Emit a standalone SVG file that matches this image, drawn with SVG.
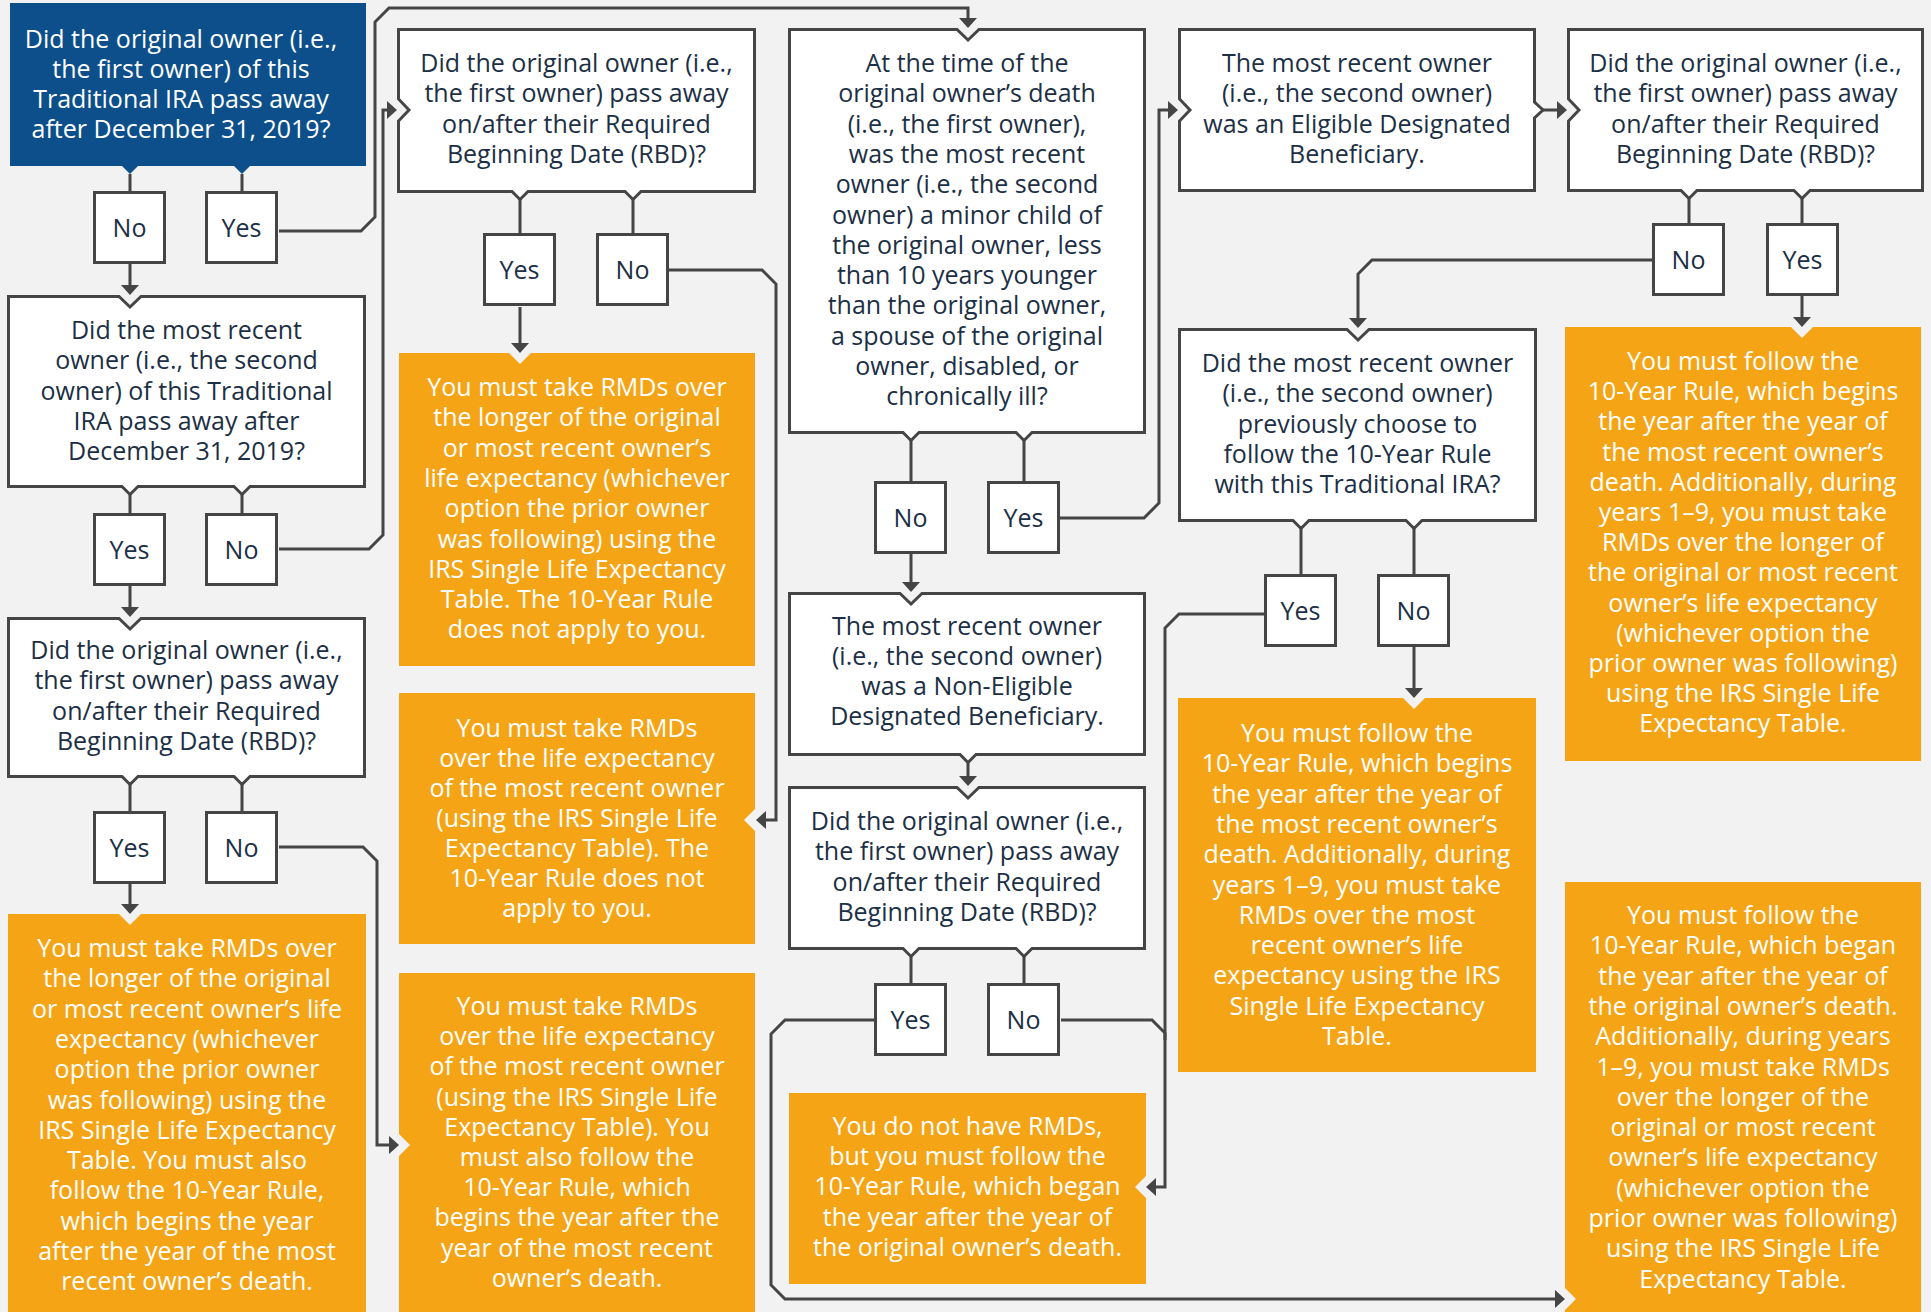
<svg xmlns="http://www.w3.org/2000/svg" width="1931" height="1312" viewBox="0 0 1931 1312">
<defs>
<style>
.wb{fill:#fff;stroke:#454545;stroke-width:3}
.ob{fill:#f5a416}
.cut{fill:#f2f2f2}
.cn{fill:none;stroke:#454545;stroke-width:3}
.ar{marker-end:url(#ah)}
text{font-family:"Open Sans","Liberation Sans",sans-serif;font-size:25px;fill:#1c2f45;text-anchor:middle}
.w{fill:#fff}
</style>
<marker id="ah" viewBox="0 0 10 18" refX="6" refY="9" markerWidth="10" markerHeight="18" markerUnits="userSpaceOnUse" orient="auto"><path d="M0,0 L10,9 L0,18 Z" fill="#454545"/></marker>
</defs>
<rect width="1931" height="1312" fill="#f2f2f2"/>

<g id="connectors">
<path class="cn" d="M130,174 V191"/>
<path class="cn" d="M242,174 V191"/>
<path class="cn ar" d="M130,264 V291"/>
<path class="cn ar" d="M279,231 H361 L375,217 V22 L389,8 H968 V24"/>
<path class="cn" d="M130,494 V513"/>
<path class="cn" d="M242,494 V513"/>
<path class="cn ar" d="M130,586 V613"/>
<path class="cn ar" d="M279,549 H369 L383,535 V110 H393"/>
<path class="cn" d="M130,784 V811"/>
<path class="cn" d="M242,784 V811"/>
<path class="cn ar" d="M130,883 V910"/>
<path class="cn ar" d="M279,847 H363 L377,861 V1145 H395"/>
<path class="cn" d="M520,199 V233"/>
<path class="cn" d="M633,199 V233"/>
<path class="cn ar" d="M520,307 V349"/>
<path class="cn ar" d="M669,270 H762 L776,284 V820 H760"/>
<path class="cn" d="M911,440 V481"/>
<path class="cn" d="M1024,440 V481"/>
<path class="cn ar" d="M911,554 V588"/>
<path class="cn ar" d="M1060,518 H1144 L1159,503 V110 H1174"/>
<path class="cn ar" d="M968,762 V782"/>
<path class="cn" d="M911,956 V983"/>
<path class="cn" d="M1024,956 V983"/>
<path class="cn ar" d="M874,1020 H785 L771,1034 V1285 L785,1299 H1561"/>
<path class="cn ar" d="M1061,1020 H1152 L1165,1033 V1187 H1150"/>
<path class="cn" d="M1265,614 H1179 L1165,628 V1040"/>
<path class="cn ar" d="M1543,110 H1563"/>
<path class="cn" d="M1689,198 V223"/>
<path class="cn" d="M1802,198 V223"/>
<path class="cn ar" d="M1802,296 V323"/>
<path class="cn ar" d="M1652,260 H1372 L1358,274 V324"/>
<path class="cn" d="M1301,528 V574"/>
<path class="cn" d="M1414,528 V574"/>
<path class="cn ar" d="M1414,647 V694"/>
</g>

<g id="q1">
<path d="M10,3 H366 V166 H250 L242,174 L234,166 H138 L130,174 L122,166 H10 Z" fill="#0c4f8b"/>
<text class="w" x="181" y="48">Did the original owner (i.e.,</text>
<text class="w" x="181" y="78">the first owner) of this</text>
<text class="w" x="181" y="108">Traditional IRA pass away</text>
<text class="w" x="181" y="138">after December 31, 2019?</text>
</g>
<g id="q1-no"><rect class="wb" x="94.5" y="192.5" width="70" height="70"/><text x="129.5" y="237">No</text></g>
<g id="q1-yes"><rect class="wb" x="206.5" y="192.5" width="70" height="70"/><text x="241.5" y="237">Yes</text></g>

<g id="q2">
<path class="wb" d="M8.5,296.5 H119 L130,307 L141,296.5 H364.5 V486.5 H250 L242,494.5 L234,486.5 H138 L130,494.5 L122,486.5 H8.5 Z"/>
<text x="186.5" y="339">Did the most recent</text>
<text x="186.5" y="369.3">owner (i.e., the second</text>
<text x="186.5" y="399.6">owner) of this Traditional</text>
<text x="186.5" y="429.9">IRA pass away after</text>
<text x="186.5" y="460.2">December 31, 2019?</text>
</g>
<g id="q2-yes"><rect class="wb" x="94.5" y="514.5" width="70" height="70"/><text x="129.5" y="559">Yes</text></g>
<g id="q2-no"><rect class="wb" x="206.5" y="514.5" width="70" height="70"/><text x="241.5" y="559">No</text></g>

<g id="q3">
<path class="wb" d="M8.5,618.5 H119 L130,629 L141,618.5 H364.5 V776.5 H250 L242,784.5 L234,776.5 H138 L130,784.5 L122,776.5 H8.5 Z"/>
<text x="186.5" y="659">Did the original owner (i.e.,</text>
<text x="186.5" y="689.3">the first owner) pass away</text>
<text x="186.5" y="719.6">on/after their Required</text>
<text x="186.5" y="749.9">Beginning Date (RBD)?</text>
</g>
<g id="q3-yes"><rect class="wb" x="94.5" y="812.5" width="70" height="70"/><text x="129.5" y="857">Yes</text></g>
<g id="q3-no"><rect class="wb" x="206.5" y="812.5" width="70" height="70"/><text x="241.5" y="857">No</text></g>

<g id="r1">
<rect class="ob" x="8" y="914" width="358" height="398"/>
<polygon class="cut" points="119,914 130,925 141,914"/>
<text class="w" x="187" y="957">You must take RMDs over</text>
<text class="w" x="187" y="987.3">the longer of the original</text>
<text class="w" x="187" y="1017.6">or most recent owner’s life</text>
<text class="w" x="187" y="1047.9">expectancy (whichever</text>
<text class="w" x="187" y="1078.2">option the prior owner</text>
<text class="w" x="187" y="1108.5">was following) using the</text>
<text class="w" x="187" y="1138.8">IRS Single Life Expectancy</text>
<text class="w" x="187" y="1169.1">Table. You must also</text>
<text class="w" x="187" y="1199.4">follow the 10-Year Rule,</text>
<text class="w" x="187" y="1229.7">which begins the year</text>
<text class="w" x="187" y="1260">after the year of the most</text>
<text class="w" x="187" y="1290.3">recent owner’s death.</text>
</g>

<g id="q4">
<path class="wb" d="M398.5,29.5 H754.5 V191.5 H641 L633,199.5 L625,191.5 H528 L520,199.5 L512,191.5 H398.5 V121 L409,110 L398.5,99 Z"/>
<text x="576.5" y="72">Did the original owner (i.e.,</text>
<text x="576.5" y="102.3">the first owner) pass away</text>
<text x="576.5" y="132.6">on/after their Required</text>
<text x="576.5" y="162.9">Beginning Date (RBD)?</text>
</g>
<g id="q4-yes"><rect class="wb" x="484.5" y="234.5" width="70" height="70"/><text x="519.5" y="279">Yes</text></g>
<g id="q4-no"><rect class="wb" x="597.5" y="234.5" width="70" height="70"/><text x="632.5" y="279">No</text></g>

<g id="r2">
<rect class="ob" x="399" y="353" width="356" height="313"/>
<polygon class="cut" points="509,353 520,364 531,353"/>
<text class="w" x="577" y="396">You must take RMDs over</text>
<text class="w" x="577" y="426.3">the longer of the original</text>
<text class="w" x="577" y="456.6">or most recent owner’s</text>
<text class="w" x="577" y="486.9">life expectancy (whichever</text>
<text class="w" x="577" y="517.2">option the prior owner</text>
<text class="w" x="577" y="547.5">was following) using the</text>
<text class="w" x="577" y="577.8">IRS Single Life Expectancy</text>
<text class="w" x="577" y="608.1">Table. The 10-Year Rule</text>
<text class="w" x="577" y="638.4">does not apply to you.</text>
</g>

<g id="r3">
<rect class="ob" x="399" y="693" width="356" height="251"/>
<polygon class="cut" points="755,809 744,820 755,831"/>
<text class="w" x="577" y="737">You must take RMDs</text>
<text class="w" x="577" y="767">over the life expectancy</text>
<text class="w" x="577" y="797">of the most recent owner</text>
<text class="w" x="577" y="827">(using the IRS Single Life</text>
<text class="w" x="577" y="857">Expectancy Table). The</text>
<text class="w" x="577" y="887">10-Year Rule does not</text>
<text class="w" x="577" y="917">apply to you.</text>
</g>

<g id="r4">
<rect class="ob" x="399" y="973" width="356" height="339"/>
<polygon class="cut" points="399,1134 410,1145 399,1156"/>
<text class="w" x="577" y="1015">You must take RMDs</text>
<text class="w" x="577" y="1045.2">over the life expectancy</text>
<text class="w" x="577" y="1075.4">of the most recent owner</text>
<text class="w" x="577" y="1105.6">(using the IRS Single Life</text>
<text class="w" x="577" y="1135.8">Expectancy Table). You</text>
<text class="w" x="577" y="1166">must also follow the</text>
<text class="w" x="577" y="1196.2">10-Year Rule, which</text>
<text class="w" x="577" y="1226.4">begins the year after the</text>
<text class="w" x="577" y="1256.6">year of the most recent</text>
<text class="w" x="577" y="1286.8">owner’s death.</text>
</g>

<g id="q5">
<path class="wb" d="M789.5,29.5 H957 L968,40 L979,29.5 H1144.5 V432.5 H1032 L1024,440.5 L1016,432.5 H919 L911,440.5 L903,432.5 H789.5 Z"/>
<text x="967" y="72">At the time of the</text>
<text x="967" y="102.3">original owner’s death</text>
<text x="967" y="132.6">(i.e., the first owner),</text>
<text x="967" y="162.9">was the most recent</text>
<text x="967" y="193.2">owner (i.e., the second</text>
<text x="967" y="223.5">owner) a minor child of</text>
<text x="967" y="253.8">the original owner, less</text>
<text x="967" y="284.1">than 10 years younger</text>
<text x="967" y="314.4">than the original owner,</text>
<text x="967" y="344.7">a spouse of the original</text>
<text x="967" y="375">owner, disabled, or</text>
<text x="967" y="405.3">chronically ill?</text>
</g>
<g id="q5-no"><rect class="wb" x="875.5" y="482.5" width="70" height="70"/><text x="910.5" y="527">No</text></g>
<g id="q5-yes"><rect class="wb" x="988.5" y="482.5" width="70" height="70"/><text x="1023.5" y="527">Yes</text></g>

<g id="s1">
<path class="wb" d="M789.5,593.5 H900 L911,604 L922,593.5 H1144.5 V754.5 H976 L968,762.5 L960,754.5 H789.5 Z"/>
<text x="967" y="635">The most recent owner</text>
<text x="967" y="665">(i.e., the second owner)</text>
<text x="967" y="695">was a Non-Eligible</text>
<text x="967" y="725">Designated Beneficiary.</text>
</g>

<g id="q6">
<path class="wb" d="M789.5,787.5 H957 L968,798 L979,787.5 H1144.5 V948.5 H1032 L1024,956.5 L1016,948.5 H919 L911,956.5 L903,948.5 H789.5 Z"/>
<text x="967" y="830">Did the original owner (i.e.,</text>
<text x="967" y="860.3">the first owner) pass away</text>
<text x="967" y="890.6">on/after their Required</text>
<text x="967" y="920.9">Beginning Date (RBD)?</text>
</g>
<g id="q6-yes"><rect class="wb" x="875.5" y="984.5" width="70" height="70"/><text x="910.5" y="1029">Yes</text></g>
<g id="q6-no"><rect class="wb" x="988.5" y="984.5" width="70" height="70"/><text x="1023.5" y="1029">No</text></g>

<g id="r5">
<rect class="ob" x="789" y="1093" width="357" height="191"/>
<polygon class="cut" points="1146,1176 1135,1187 1146,1198"/>
<text class="w" x="967.5" y="1135">You do not have RMDs,</text>
<text class="w" x="967.5" y="1165.2">but you must follow the</text>
<text class="w" x="967.5" y="1195.4">10-Year Rule, which began</text>
<text class="w" x="967.5" y="1225.6">the year after the year of</text>
<text class="w" x="967.5" y="1255.8">the original owner’s death.</text>
</g>

<g id="s2">
<path class="wb" d="M1179.5,29.5 H1534.5 V102 L1543,110 L1534.5,118 V190.5 H1179.5 V121 L1190,110 L1179.5,99 Z"/>
<text x="1357" y="72">The most recent owner</text>
<text x="1357" y="102.3">(i.e., the second owner)</text>
<text x="1357" y="132.6">was an Eligible Designated</text>
<text x="1357" y="162.9">Beneficiary.</text>
</g>

<g id="q7">
<path class="wb" d="M1179.5,329.5 H1347 L1358,340 L1369,329.5 H1535.5 V520.5 H1422 L1414,528.5 L1406,520.5 H1309 L1301,528.5 L1293,520.5 H1179.5 Z"/>
<text x="1357.5" y="372">Did the most recent owner</text>
<text x="1357.5" y="402.3">(i.e., the second owner)</text>
<text x="1357.5" y="432.6">previously choose to</text>
<text x="1357.5" y="462.9">follow the 10-Year Rule</text>
<text x="1357.5" y="493.2">with this Traditional IRA?</text>
</g>
<g id="q7-yes"><rect class="wb" x="1265.5" y="575.5" width="70" height="70"/><text x="1300.5" y="620">Yes</text></g>
<g id="q7-no"><rect class="wb" x="1378.5" y="575.5" width="70" height="70"/><text x="1413.5" y="620">No</text></g>

<g id="r6">
<rect class="ob" x="1178" y="698" width="358" height="374"/>
<polygon class="cut" points="1403,698 1414,709 1425,698"/>
<text class="w" x="1357" y="742">You must follow the</text>
<text class="w" x="1357" y="772.3">10-Year Rule, which begins</text>
<text class="w" x="1357" y="802.6">the year after the year of</text>
<text class="w" x="1357" y="832.9">the most recent owner’s</text>
<text class="w" x="1357" y="863.2">death. Additionally, during</text>
<text class="w" x="1357" y="893.5">years 1–9, you must take</text>
<text class="w" x="1357" y="923.8">RMDs over the most</text>
<text class="w" x="1357" y="954.1">recent owner’s life</text>
<text class="w" x="1357" y="984.4">expectancy using the IRS</text>
<text class="w" x="1357" y="1014.7">Single Life Expectancy</text>
<text class="w" x="1357" y="1045">Table.</text>
</g>

<g id="q8">
<path class="wb" d="M1568.5,29.5 H1922.5 V190.5 H1810 L1802,198.5 L1794,190.5 H1697 L1689,198.5 L1681,190.5 H1568.5 V121 L1579,110 L1568.5,99 Z"/>
<text x="1745.5" y="72">Did the original owner (i.e.,</text>
<text x="1745.5" y="102.3">the first owner) pass away</text>
<text x="1745.5" y="132.6">on/after their Required</text>
<text x="1745.5" y="162.9">Beginning Date (RBD)?</text>
</g>
<g id="q8-no"><rect class="wb" x="1653.5" y="224.5" width="70" height="70"/><text x="1688.5" y="269">No</text></g>
<g id="q8-yes"><rect class="wb" x="1767.5" y="224.5" width="70" height="70"/><text x="1802.5" y="269">Yes</text></g>

<g id="r7">
<rect class="ob" x="1565" y="327" width="356" height="434"/>
<polygon class="cut" points="1791,327 1802,338 1813,327"/>
<text class="w" x="1743" y="370">You must follow the</text>
<text class="w" x="1743" y="400.2">10-Year Rule, which begins</text>
<text class="w" x="1743" y="430.4">the year after the year of</text>
<text class="w" x="1743" y="460.6">the most recent owner’s</text>
<text class="w" x="1743" y="490.8">death. Additionally, during</text>
<text class="w" x="1743" y="521">years 1–9, you must take</text>
<text class="w" x="1743" y="551.2">RMDs over the longer of</text>
<text class="w" x="1743" y="581.4">the original or most recent</text>
<text class="w" x="1743" y="611.6">owner’s life expectancy</text>
<text class="w" x="1743" y="641.8">(whichever option the</text>
<text class="w" x="1743" y="672">prior owner was following)</text>
<text class="w" x="1743" y="702.2">using the IRS Single Life</text>
<text class="w" x="1743" y="732.4">Expectancy Table.</text>
</g>

<g id="r8">
<rect class="ob" x="1565" y="882" width="356" height="430"/>
<polygon class="cut" points="1565,1288 1576,1299 1565,1310"/>
<text class="w" x="1743" y="924">You must follow the</text>
<text class="w" x="1743" y="954.3">10-Year Rule, which began</text>
<text class="w" x="1743" y="984.6">the year after the year of</text>
<text class="w" x="1743" y="1014.9">the original owner’s death.</text>
<text class="w" x="1743" y="1045.2">Additionally, during years</text>
<text class="w" x="1743" y="1075.5">1–9, you must take RMDs</text>
<text class="w" x="1743" y="1105.8">over the longer of the</text>
<text class="w" x="1743" y="1136.1">original or most recent</text>
<text class="w" x="1743" y="1166.4">owner’s life expectancy</text>
<text class="w" x="1743" y="1196.7">(whichever option the</text>
<text class="w" x="1743" y="1227">prior owner was following)</text>
<text class="w" x="1743" y="1257.3">using the IRS Single Life</text>
<text class="w" x="1743" y="1287.6">Expectancy Table.</text>
</g>
</svg>
